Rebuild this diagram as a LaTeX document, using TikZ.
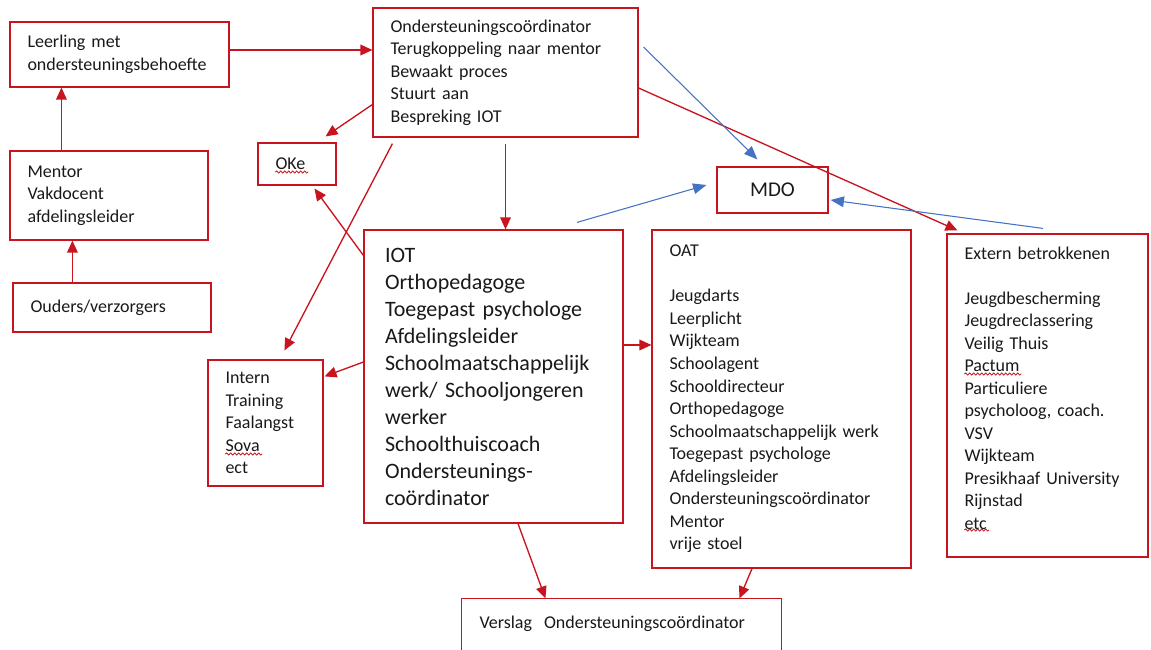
\documentclass[tikz,border=0pt]{standalone}
\usepackage{fontspec}
\setmainfont{Carlito}
\usetikzlibrary{arrows.meta,calc,decorations.pathmorphing}

\definecolor{ored}{RGB}{200,20,30}
\definecolor{oblue}{RGB}{68,114,196}
\definecolor{otext}{RGB}{25,25,25}
\newcommand\boxfont{\fontsize{13.5}{16.9}\selectfont}
\newcommand\iotfont{\fontsize{16.5}{20.25}\selectfont}

\begin{document}
\begin{tikzpicture}[x=0.75pt,y=0.75pt,yscale=-1,xscale=1,
  box/.style={draw=ored,line width=0.9pt,align=left,inner xsep=13.1pt,inner ysep=0pt,text=otext,font=\boxfont},
  rarrow/.style={draw=ored,line width=1pt,-{Triangle[length=9pt,width=8pt]}},
  barrow/.style={draw=oblue,line width=0.8pt,-{Triangle[length=10pt,width=8pt]}},
  spellwave/.style={draw=ored,line width=0.6pt,decorate,decoration={snake,amplitude=0.8pt,segment length=3pt}}]
\useasboundingbox (0,0) rectangle (1151,649);

% Text Node
\node[box,text width=138pt,minimum height=48.75pt] (leer) at (119.5,54.5) {Leerling met\\ondersteuningsbehoefte};
% Text Node
\node[box,text width=122.25pt,minimum height=66.75pt] (mentor) at (109,195.5) {Mentor\\Vakdocent\\afdelingsleider};
% Text Node
\node[box,text width=122.25pt,minimum height=36.75pt] (ouders) at (112,307.5) {Ouders/verzorgers};
% Text Node
\node[box,text width=172.5pt,minimum height=96.75pt] (oc) at (505.5,72.5) {Ondersteuningscoördinator\\Terugkoppeling naar mentor\\Bewaakt proces\\Stuurt aan\\Bespreking IOT};
% Text Node
\node[box,text width=32.25pt,minimum height=31.5pt] (oke) at (297,164) {OKe};
% Text Node
\node[box,align=center,inner xsep=0pt,minimum width=83.25pt,minimum height=34.5pt,font=\fontsize{15.75}{19}\selectfont] (mdo) at (772.5,190) {MDO};
% Text Node
\node[box,inner xsep=15.75pt,text width=162.75pt,minimum height=219.75pt,font=\iotfont] (iot) at (493.5,376.5) {IOT\\Orthopedagoge\\Toegepast psychologe\\Afdelingsleider\\Schoolmaatschappelijk\\werk/ Schooljongeren\\werker\\Schoolthuiscoach\\Ondersteunings-\\coördinator};
% Text Node
\node[box,text width=60pt,minimum height=94.5pt] (intern) at (265.5,423) {Intern\\Training\\Faalangst\\Sova\\ect};
% Text Node
\node[box,text width=168pt,minimum height=253.5pt] (oat) at (781.5,399) {OAT\\[16.9pt]Jeugdarts\\Leerplicht\\Wijkteam\\Schoolagent\\Schooldirecteur\\Orthopedagoge\\Schoolmaatschappelijk werk\\Toegepast psychologe\\Afdelingsleider\\Ondersteuningscoördinator\\Mentor\\vrije stoel};
% Text Node
\node[box,text width=124.5pt,minimum height=242.25pt] (extern) at (1047.5,395.5) {Extern betrokkenen\\[16.9pt]Jeugdbescherming\\Jeugdreclassering\\Veilig Thuis\\Pactum\\Particuliere\\psycholoog, coach.\\VSV\\Wijkteam\\Presikhaaf University\\Rijnstad\\etc\\[-5.6pt]~};
% Text Node
\node[box,draw=none,text width=213pt,minimum height=37.5pt] (verslag) at (621.5,624) {Verslag~ Ondersteuningscoördinator};
\draw[ored,line width=0.9pt] (verslag.south west) -- (verslag.north west) -- (verslag.north east) -- (verslag.south east);

% spelling marks
\draw[spellwave] ($(oke.west)+(18,8)$) -- ++(33,0);
\draw[spellwave] ($(intern.west)+(18,31)$) -- ++(37,0);
\draw[spellwave] ($(extern.west)+(18,-21.5)$) -- ++(57,0);
\draw[spellwave] ($(extern.west)+(18,134.5)$) -- ++(25,0);

%Straight Lines
\draw[rarrow] ($(leer.east)+(0,-4.5)$) -- ($(oc.west)+(0,-22.5)$);
\draw[rarrow] ($(mentor.north west)+(52,0)$) -- ($(leer.south west)+(52,0)$);
\draw[rarrow] ($(ouders.north west)+(60,0)$) -- ($(mentor.south west)+(63,0)$);
\draw[rarrow] ($(oc.west)+(0,32)$) -- ($(oke.north east)+(-11,-6)$);
\draw[rarrow] ($(oc.south west)+(20,6)$) -- ($(intern.north west)+(77,-9)$);
\draw[rarrow] ($(iot.north west)+(0,26)$) -- ($(oke.south west)+(57,3)$);
\draw[rarrow] ($(oc.south)+(0,6)$) -- (oc.south |- iot.north);
\draw[rarrow] ($(iot.west)+(0,-14.5)$) -- ($(intern.north east)+(1,17)$);
\draw[rarrow] ($(iot.east)+(0,-31.5)$) -- ($(oat.west)+(0,-54)$);
\draw[rarrow] ($(iot.south)+(24.5,0)$) -- ($(verslag.north west)+(84,0)$);
\draw[rarrow] ($(oat.south)+(-29.5,0)$) -- ($(verslag.north west)+(278,0)$);
\draw[rarrow] ($(oc.east)+(0,15.5)$) -- ($(extern.north west)+(11,-3)$);

%Straight Lines
\draw[barrow] ($(oc.east)+(5,-25.5)$) -- ($(mdo.north west)+(41,-7)$);
\draw[barrow] ($(iot.north)+(83.5,-7)$) -- ($(mdo.west)+(-10,-5)$);
\draw[barrow] ($(extern.north)+(-4.5,-5)$) -- ($(mdo.east)+(2,10)$);

\end{tikzpicture}
\end{document}
